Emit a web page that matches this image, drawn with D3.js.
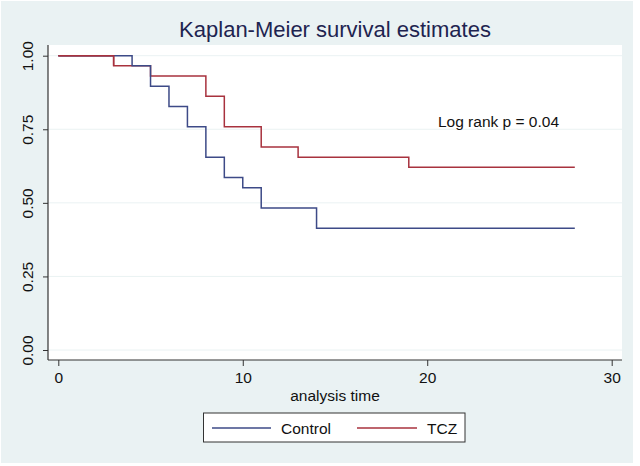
<!DOCTYPE html>
<html><head><meta charset="utf-8">
<script src="https://cdn.jsdelivr.net/npm/d3@7"></script>
<style>html,body{margin:0;padding:0;background:#fff;}svg{display:block;font-family:"Liberation Sans",Arial,sans-serif;}</style>
</head><body>
<script>
const controlTimes = [0, 4, 5, 6, 7, 8, 9, 10, 11, 14, 28];
const controlSurv  = [1, 0.9655, 0.8966, 0.8276, 0.7586, 0.6552, 0.5862, 0.5517, 0.4828, 0.4138, 0.4138];
const tczTimes = [0, 3, 5, 8, 9, 11, 13, 19, 28];
const tczSurv  = [1, 0.9655, 0.9310, 0.8621, 0.7586, 0.6897, 0.6552, 0.6207, 0.6207];
const xTicks = [0, 10, 20, 30];
const yTicks = [0, 0.25, 0.5, 0.75, 1];
const seriesNames = ["Control", "TCZ"];
const seriesColors = ["#3d4a87", "#a8323e"];
const titleText = "Kaplan-Meier survival estimates";
const xLabel = "analysis time";
const noteText = "Log rank p = 0.04";

const W = 640, H = 466;
const FS = 15.5;
const svg = d3.select("body").append("svg").attr("width", W).attr("height", H);
svg.append("rect").attr("x",1).attr("y",1).attr("width",632).attr("height",462).attr("fill","#eaf2f3");

const plot = {left:48, top:45, right:622, bottom:360};
const x = d3.scaleLinear().domain([0,30]).range([58.3,611.7]);
const y = d3.scaleLinear().domain([0,1]).range([350,55.7]);

svg.append("rect").attr("x",plot.left).attr("y",plot.top).attr("width",plot.right-plot.left).attr("height",plot.bottom-plot.top).attr("fill","#fff");

// gridlines
svg.append("g").selectAll("line").data(yTicks).join("line")
  .attr("x1",plot.left).attr("x2",plot.right)
  .attr("y1",d=>y(d)).attr("y2",d=>y(d))
  .attr("stroke","#eaf2f3").attr("stroke-width",1);

// axes
const yAxis = d3.axisLeft(y).tickValues(yTicks).tickFormat(d3.format(".2f")).tickSize(5).tickSizeOuter(0);
const gy = svg.append("g").attr("transform",`translate(${plot.left},0)`).call(yAxis);
gy.select(".domain").remove();
svg.append("line").attr("x1",plot.left).attr("x2",plot.left).attr("y1",plot.top).attr("y2",plot.bottom).attr("stroke","#333").attr("stroke-width",1.2);
gy.selectAll(".tick line").attr("stroke","#333");
gy.selectAll(".tick text").attr("transform","rotate(-90)").attr("x",0).attr("y",-20).attr("dy","0.35em")
  .attr("text-anchor","middle").attr("font-size",FS).attr("fill","#111").attr("font-family","Liberation Sans, Arial, sans-serif");

const xAxis = d3.axisBottom(x).tickValues(xTicks).tickSize(6).tickSizeOuter(0);
const gx = svg.append("g").attr("transform",`translate(0,${plot.bottom})`).call(xAxis);
gx.select(".domain").remove();
svg.append("line").attr("x1",plot.left).attr("x2",plot.right).attr("y1",plot.bottom).attr("y2",plot.bottom).attr("stroke","#333").attr("stroke-width",1.2);
gx.selectAll(".tick line").attr("stroke","#333");
gx.selectAll(".tick text").attr("y",12).attr("dy","0.71em").attr("font-size",FS).attr("fill","#111").attr("font-family","Liberation Sans, Arial, sans-serif");

// step lines
const line = d3.line().curve(d3.curveStepAfter).x(d=>x(d[0])).y(d=>y(d[1]));
const series = [d3.zip(controlTimes, controlSurv), d3.zip(tczTimes, tczSurv)];
svg.append("path").datum(series[1]).attr("d",line).attr("fill","none").attr("stroke",seriesColors[1]).attr("stroke-width",1.5);
svg.append("path").datum(series[0]).attr("d",line).attr("fill","none").attr("stroke",seriesColors[0]).attr("stroke-width",1.5);
svg.append("path").datum(series[1].slice(0,2)).attr("d",line).attr("fill","none").attr("stroke",seriesColors[1]).attr("stroke-width",1.5);

// texts
svg.append("text").attr("x",335).attr("y",37).attr("text-anchor","middle").attr("font-size",22).attr("fill","#1e2450").text(titleText);
svg.append("text").attr("x",335).attr("y",401).attr("text-anchor","middle").attr("font-size",FS).attr("fill","#111").text(xLabel);
svg.append("text").attr("x",498.5).attr("y",127).attr("text-anchor","middle").attr("font-size",FS).attr("fill","#111").text(noteText);

// legend
const lg = svg.append("g");
lg.append("rect").attr("x",203.5).attr("y",413).attr("width",261.5).attr("height",29).attr("fill","#fff").attr("stroke","#333").attr("stroke-width",1);
const lx = [[212,271,281],[357,417,427]];
seriesNames.forEach((n,i)=>{
  lg.append("line").attr("x1",lx[i][0]).attr("x2",lx[i][1]).attr("y1",428).attr("y2",428).attr("stroke",seriesColors[i]).attr("stroke-width",1.5);
  lg.append("text").attr("x",lx[i][2]).attr("y",433.5).attr("font-size",FS).attr("fill","#111").text(n);
});
</script>
</body></html>
